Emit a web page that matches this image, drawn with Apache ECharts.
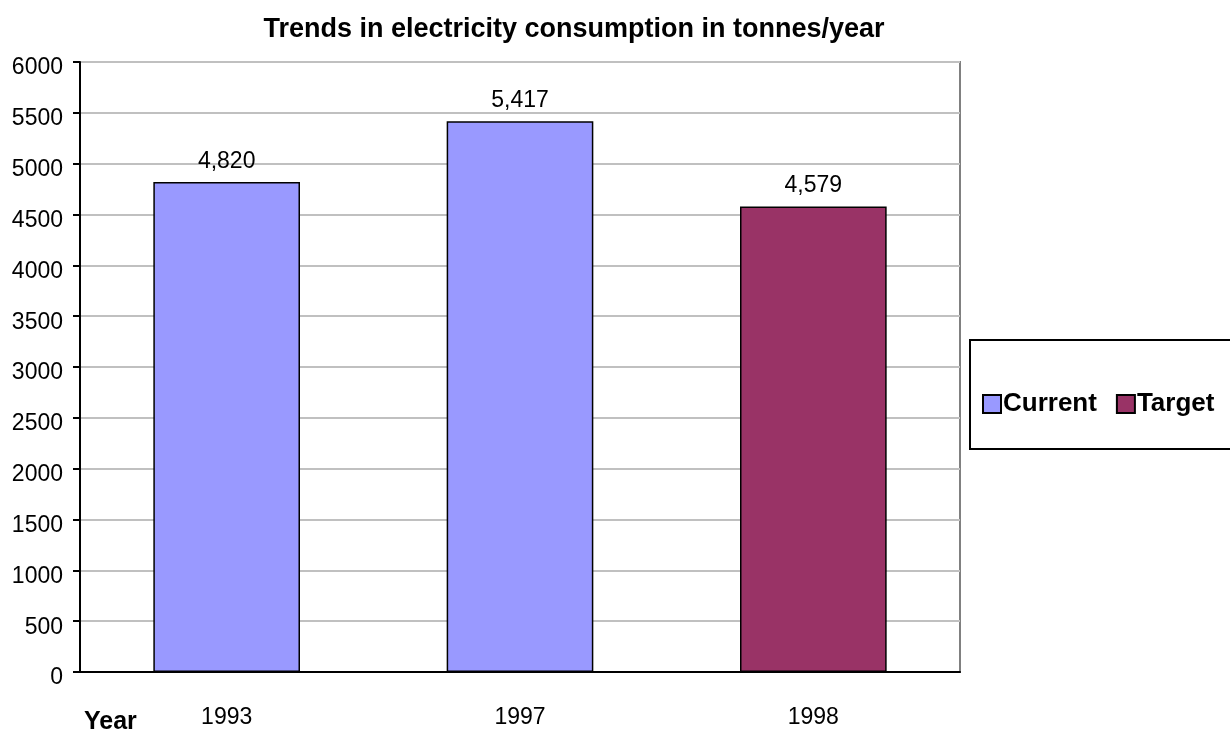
<!DOCTYPE html>
<html>
<head>
<meta charset="utf-8">
<script src="https://cdn.jsdelivr.net/npm/echarts@6/dist/echarts.min.js"></script>
<style>
  html, body { margin: 0; padding: 0; background: #fff; }
  #chart { width: 1230px; height: 732px; }
</style>
</head>
<body>
<div id="chart"></div>
<script>
const years = ['1993', '1997', '1998']
const currentValues = [4820, 5417, '-']
const targetValues = ['-', '-', 4579]

const font = '"Liberation Sans", Arial, sans-serif'
const withCommas = v => String(v).replace(/\B(?=(\d{3})+(?!\d))/g, ',')

const chart = echarts.init(document.getElementById('chart'))

const barLabel = {
  show: true,
  position: 'top',
  distance: 9,
  color: '#000',
  fontFamily: font,
  fontSize: 23,
  formatter: p => withCommas(p.value)
}

chart.setOption({
  animation: false,
  title: {
    text: 'Trends in electricity consumption in tonnes/year',
    left: 569,
    top: 11,
    textAlign: 'center',
    textStyle: { fontFamily: font, fontSize: 27, fontWeight: 'bold', color: '#000' }
  },
  grid: {
    left: 80, right: 270, top: 62, bottom: 60,
    show: true, borderColor: '#808080', borderWidth: 2, backgroundColor: '#fff'
  },
  legend: {
    left: 977,
    top: 386,
    icon: 'rect',
    itemWidth: 18,
    itemHeight: 18,
    itemGap: 19,
    textStyle: { fontFamily: font, fontSize: 26, fontWeight: 'bold', color: '#000', padding: [2, 0, 0, -3] },
    data: ['Current', 'Target']
  },
  xAxis: {
    type: 'category',
    data: years,
    axisLine: { lineStyle: { color: '#000', width: 2 } },
    axisTick: { length: 8, lineStyle: { color: '#000', width: 2 } },
    axisLabel: { margin: 34, color: '#000', fontFamily: font, fontSize: 23 }
  },
  yAxis: {
    type: 'value',
    min: 0,
    max: 6000,
    interval: 500,
    axisLine: { show: true, lineStyle: { color: '#000', width: 2 } },
    axisTick: { show: true, length: 7, lineStyle: { color: '#000', width: 2 } },
    axisLabel: {
      margin: 17, color: '#000', fontFamily: font, fontSize: 23,
      verticalAlign: 'top',
      lineHeight: 12,
      formatter: v => String(v)
    },
    splitLine: { lineStyle: { color: '#c0c0c0', width: 2 } }
  },
  graphic: [
    {
      type: 'rect',
      shape: { x: 970, y: 340, width: 270, height: 109 },
      style: { fill: 'none', stroke: '#000', lineWidth: 2 },
      z: -1
    },
    {
      type: 'text',
      left: 84,
      top: 710,
      style: { text: 'Year', fill: '#000', font: 'bold 25px ' + font }
    }
  ],
  series: [
    {
      name: 'Current',
      type: 'bar',
      data: currentValues,
      barWidth: '50%',
      barGap: '-100%',
      itemStyle: { color: '#9999ff', borderColor: '#000', borderWidth: 1.5 },
      label: barLabel
    },
    {
      name: 'Target',
      type: 'bar',
      data: targetValues,
      barWidth: '50%',
      itemStyle: { color: '#993366', borderColor: '#000', borderWidth: 1.5 },
      label: barLabel
    }
  ]
})
</script>
</body>
</html>
